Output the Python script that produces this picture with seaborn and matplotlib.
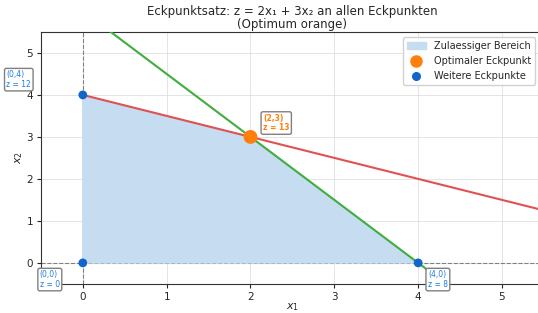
import matplotlib
matplotlib.use("Agg")
import matplotlib.pyplot as plt
import seaborn as sns
import pandas as pd
import numpy as np
from matplotlib.patches import Patch

# data
poly_x = [0, 0, 2, 4]
poly_y = [0, 4, 3, 0]
other_x = [0, 0, 4]
other_y = [0, 4, 0]
other_z = [0, 12, 8]
opt_x = [2]
opt_y = [3]
opt_z = [13]
line_x = [0, 6]
red_y = [4, 1]          # x1 + 2 x2 = 8
green_y = [6, -3]       # 3 x1 + 2 x2 = 12

sns.set_style("ticks")
fig = plt.figure(figsize=(5.38, 3.13), dpi=100)
ax = fig.add_axes([0.076, 0.093, 0.935, 0.805])

ax.grid(True, color="#dddddd", lw=0.7, alpha=0.8)
ax.axhline(0, color="gray", ls="--", lw=0.8, zorder=1)
ax.axvline(0, color="gray", ls="--", lw=0.8, zorder=1)

ax.fill(poly_x, poly_y, color="#c6dcf1", zorder=2, label="Zulaessiger Bereich")
sns.lineplot(x=line_x, y=red_y, color="#e05252", lw=1.5, ax=ax, zorder=3)
sns.lineplot(x=line_x, y=green_y, color="#3fae3f", lw=1.5, ax=ax, zorder=3)

sns.scatterplot(x=opt_x, y=opt_y, color="#ff7f0e", s=100, ax=ax, zorder=5,
                edgecolor="none", label="Optimaler Eckpunkt")
sns.scatterplot(x=other_x, y=other_y, color="#1166cc", s=40, ax=ax, zorder=5,
                edgecolor="none", label="Weitere Eckpunkte")

bbox = dict(boxstyle="round,pad=0.25", fc="white", ec="gray", lw=1)
offsets = {(0, 0): (-31, -12), (0, 4): (-55, 11), (4, 0): (7, -12)}
for x, y, z in zip(other_x, other_y, other_z):
    ax.annotate(f"({x},{y})\nz = {z}", (x, y), xytext=offsets[(x, y)],
                textcoords="offset points", fontsize=5.5, color="#1f7fe0",
                va="center", ha="left", bbox=bbox, zorder=6, linespacing=1.1)
for x, y, z in zip(opt_x, opt_y, opt_z):
    ax.annotate(f"({x},{y})\nz = {z}", (x, y), xytext=(9, 10),
                textcoords="offset points", fontsize=5.5, color="#ff7f0e",
                fontweight="bold", va="center", ha="left", bbox=bbox, zorder=6,
                linespacing=1.1)

ax.set_xlim(-0.5, 5.5)
ax.set_ylim(-0.5, 5.5)
ax.set_xticks([0, 1, 2, 3, 4, 5])
ax.set_yticks([0, 1, 2, 3, 4, 5])
ax.tick_params(labelsize=7.5, length=3, pad=2.5)
ax.set_xlabel("$x_1$", fontsize=8, labelpad=0)
ax.set_ylabel("$x_2$", fontsize=8, labelpad=1)
ax.set_title("Eckpunktsatz: z = 2x₁ + 3x₂ an allen Eckpunkten\n(Optimum orange)",
             fontsize=8.5, linespacing=1.0, pad=3)

handles = [Patch(color="#c6dcf1", label="Zulaessiger Bereich"),
           plt.Line2D([], [], ls="", marker="o", ms=8, color="#ff7f0e", label="Optimaler Eckpunkt"),
           plt.Line2D([], [], ls="", marker="o", ms=5.5, color="#1166cc", label="Weitere Eckpunkte")]
ax.legend(handles=handles, loc="upper right", bbox_to_anchor=(0.988, 0.99),
          fontsize=7, framealpha=0.9, borderaxespad=0.3)
for s in ax.spines.values():
    s.set_color("#333333")

fig.savefig("out.png", dpi=100)
